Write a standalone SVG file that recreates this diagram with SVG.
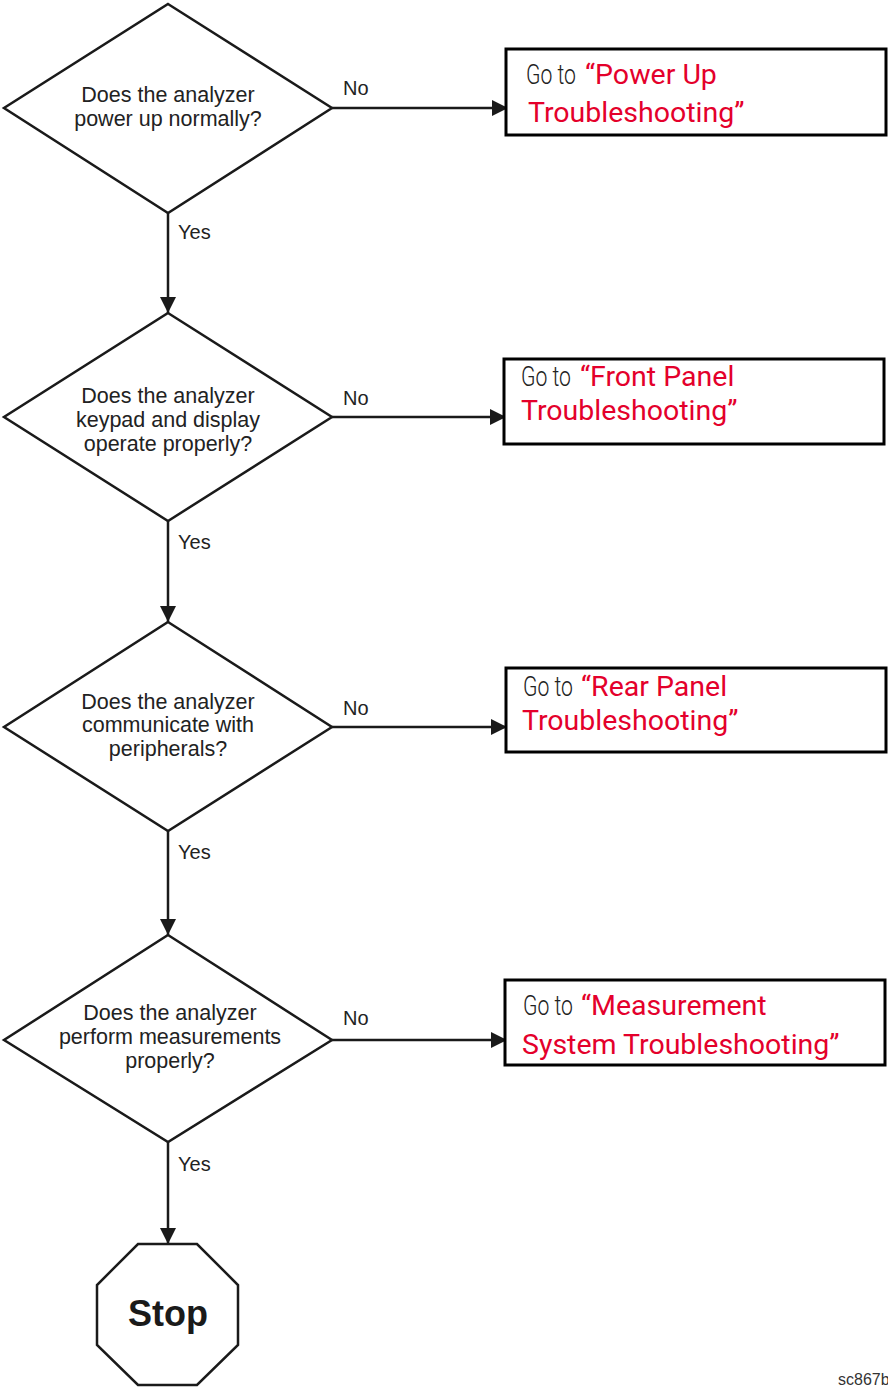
<svg xmlns="http://www.w3.org/2000/svg" width="888" height="1389" viewBox="0 0 888 1389">
<style>
.shape{fill:#fff;stroke:#1a1a1a;stroke-width:2.5}
.box{fill:#fff;stroke:#000;stroke-width:3}
.q{font-family:"Liberation Sans",Arial,sans-serif;font-size:21.5px;fill:#222;text-anchor:middle}
.lbl{font-family:"Liberation Sans",Arial,sans-serif;font-size:20px;fill:#222}
.t{font-family:Roboto,"Liberation Sans",sans-serif;font-size:28.5px}
.go{font-weight:300;font-size:28px;fill:#222}
.red{fill:#e4002b}
.conn{stroke:#1a1a1a;stroke-width:2.5;fill:none}
</style>
<defs>
<marker id="ah" viewBox="0 0 16 16" refX="16" refY="8" markerWidth="16" markerHeight="16" markerUnits="userSpaceOnUse" orient="auto">
<path d="M0,0 L16,8 L0,16 Z" fill="#1a1a1a"/>
</marker>
</defs>
<rect width="888" height="1389" fill="#fff"/>
<g id="connectors">
<line class="conn" x1="168" y1="213" x2="168" y2="313" marker-end="url(#ah)"/>
<line class="conn" x1="168" y1="521" x2="168" y2="622" marker-end="url(#ah)"/>
<line class="conn" x1="168" y1="831" x2="168" y2="935" marker-end="url(#ah)"/>
<line class="conn" x1="168" y1="1142" x2="168" y2="1244" marker-end="url(#ah)"/>
<line class="conn" x1="332" y1="108" x2="508" y2="108" marker-end="url(#ah)"/>
<line class="conn" x1="332" y1="417" x2="506" y2="417" marker-end="url(#ah)"/>
<line class="conn" x1="332" y1="727" x2="507" y2="727" marker-end="url(#ah)"/>
<line class="conn" x1="332" y1="1040" x2="507" y2="1040" marker-end="url(#ah)"/>
<text class="lbl" x="343" y="95">No</text>
<text class="lbl" x="343" y="405">No</text>
<text class="lbl" x="343" y="715">No</text>
<text class="lbl" x="343" y="1025">No</text>
<text class="lbl" x="178" y="239">Yes</text>
<text class="lbl" x="178" y="549">Yes</text>
<text class="lbl" x="178" y="859">Yes</text>
<text class="lbl" x="178" y="1171">Yes</text>
</g>
<g id="d1">
<polygon class="shape" points="168,4 332,108 168,213 4,108"/>
<text class="q" x="168" y="102">Does the analyzer</text>
<text class="q" x="168" y="126">power up normally?</text>
</g>
<g id="d2">
<polygon class="shape" points="168,313 332,417 168,521 4,417"/>
<text class="q" x="168" y="403">Does the analyzer</text>
<text class="q" x="168" y="427">keypad and display</text>
<text class="q" x="168" y="451">operate properly?</text>
</g>
<g id="d3">
<polygon class="shape" points="168,622 332,727 168,831 4,727"/>
<text class="q" x="168" y="709">Does the analyzer</text>
<text class="q" x="168" y="732">communicate with</text>
<text class="q" x="168" y="756">peripherals?</text>
</g>
<g id="d4">
<polygon class="shape" points="168,935 332,1040 168,1142 4,1040"/>
<text class="q" x="170" y="1020">Does the analyzer</text>
<text class="q" x="170" y="1044">perform measurements</text>
<text class="q" x="170" y="1068">properly?</text>
</g>
<g id="b1">
<rect class="box" x="506" y="49" width="380" height="86"/>
<text class="t" y="84"><tspan class="go" x="526" textLength="50" lengthAdjust="spacingAndGlyphs">Go to</tspan><tspan class="red" x="585">“Power Up</tspan></text>
<text class="t red" x="528" y="122">Troubleshooting”</text>
</g>
<g id="b2">
<rect class="box" x="504" y="359" width="380" height="85"/>
<text class="t" y="386"><tspan class="go" x="521" textLength="50" lengthAdjust="spacingAndGlyphs">Go to</tspan><tspan class="red" x="580">“Front Panel</tspan></text>
<text class="t red" x="521" y="420">Troubleshooting”</text>
</g>
<g id="b3">
<rect class="box" x="506" y="668" width="380" height="84"/>
<text class="t" y="696"><tspan class="go" x="523" textLength="50" lengthAdjust="spacingAndGlyphs">Go to</tspan><tspan class="red" x="581">“Rear Panel</tspan></text>
<text class="t red" x="522" y="730">Troubleshooting”</text>
</g>
<g id="b4">
<rect class="box" x="505" y="980" width="380" height="85"/>
<text class="t" y="1015"><tspan class="go" x="523" textLength="50" lengthAdjust="spacingAndGlyphs">Go to</tspan><tspan class="red" x="581">“Measurement</tspan></text>
<text class="t red" x="522" y="1054">System Troubleshooting”</text>
</g>
<g id="stop">
<polygon class="shape" points="138,1244 197,1244 238,1285 238,1345 197,1385 138,1385 97,1345 97,1285"/>
<text x="168" y="1326" text-anchor="middle" font-family="Liberation Sans,Arial,sans-serif" font-weight="bold" font-size="36" fill="#1a1a1a">Stop</text>
</g>
<text x="838" y="1385" font-family="Liberation Sans,Arial,sans-serif" font-size="16" fill="#333">sc867b</text>
</svg>
